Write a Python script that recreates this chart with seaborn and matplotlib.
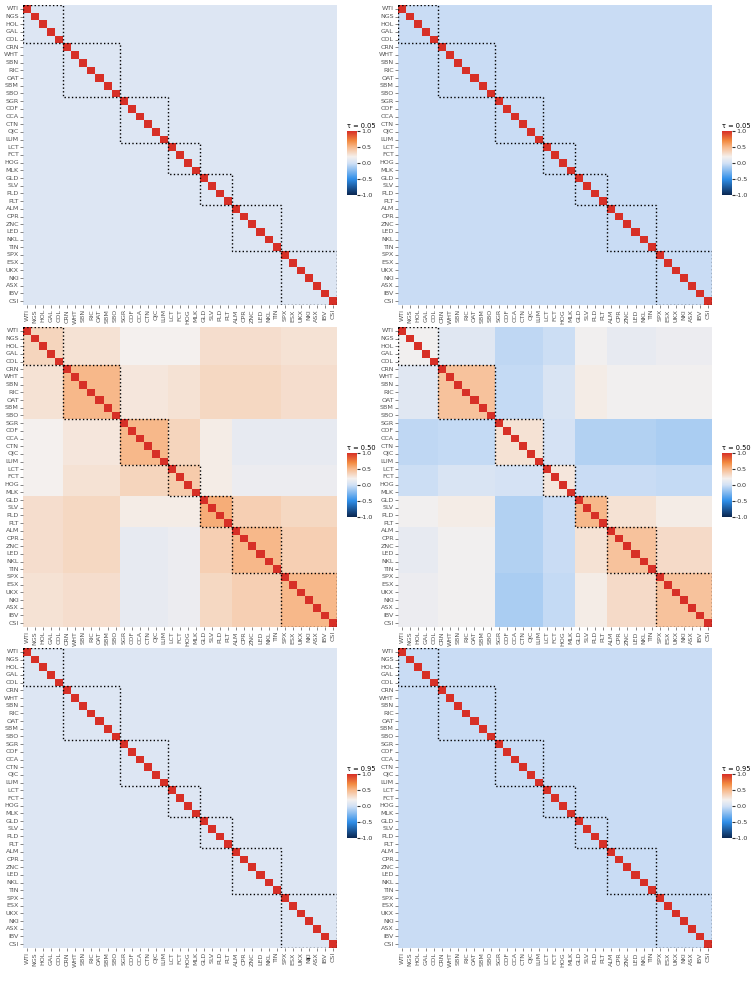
import numpy as np
import pandas as pd
import seaborn as sns
import matplotlib
matplotlib.use("Agg")
import matplotlib.pyplot as plt
from matplotlib.colors import LinearSegmentedColormap
from matplotlib.patches import Rectangle

assets = ["WTI","NGS","HOL","GAL","COL","CRN","WHT","SBN","RIC","OAT","SBM","SBO",
          "SGR","COF","CCA","CTN","OJC","LUM","LCT","FCT","HOG","MLK","GLD","SLV",
          "PLD","PLT","ALM","CPR","ZNC","LED","NKL","TIN","SPX","ESX","UKX","NKI",
          "ASX","IBV","CSI"]
sector_sizes = [5, 7, 6, 4, 4, 6, 7]
taus = ["0.05", "0.50", "0.95"]

# off-diagonal level for the extreme-quantile panels (left / right column)
level_005_left = 0.07
level_005_right = -0.03
level_095_left = 0.07
level_095_right = -0.03

# sector-block average correlations, tau = 0.50 (left / right)
block_050_left = [
    [0.35, 0.28, 0.20, 0.20, 0.30, 0.30, 0.28],
    [0.28, 0.50, 0.25, 0.28, 0.33, 0.33, 0.30],
    [0.20, 0.25, 0.50, 0.35, 0.22, 0.12, 0.12],
    [0.20, 0.28, 0.35, 0.40, 0.22, 0.15, 0.15],
    [0.30, 0.33, 0.22, 0.22, 0.55, 0.38, 0.33],
    [0.30, 0.33, 0.12, 0.15, 0.38, 0.50, 0.38],
    [0.28, 0.30, 0.12, 0.15, 0.33, 0.38, 0.50],
]
block_050_right = [
    [0.18, 0.08, -0.06, -0.02, 0.18, 0.12, 0.15],
    [0.08, 0.45, -0.04, 0.04, 0.22, 0.18, 0.18],
    [-0.06, -0.04, 0.28, 0.02, -0.10, -0.10, -0.12],
    [-0.02, 0.04, 0.02, 0.25, -0.03, -0.03, -0.04],
    [0.18, 0.22, -0.10, -0.03, 0.50, 0.28, 0.22],
    [0.12, 0.18, -0.10, -0.03, 0.28, 0.45, 0.32],
    [0.15, 0.18, -0.12, -0.04, 0.22, 0.32, 0.45],
]

sector_of = np.repeat(np.arange(len(sector_sizes)), sector_sizes)

def uniform(level):
    m = np.full((len(assets), len(assets)), level)
    np.fill_diagonal(m, 1.0)
    return pd.DataFrame(m, index=assets, columns=assets)

def from_blocks(blocks):
    b = np.array(blocks)
    m = b[np.ix_(sector_of, sector_of)].copy()
    np.fill_diagonal(m, 1.0)
    return pd.DataFrame(m, index=assets, columns=assets)

panels = [
    [uniform(level_005_left), uniform(level_005_right)],
    [from_blocks(block_050_left), from_blocks(block_050_right)],
    [uniform(level_095_left), uniform(level_095_right)],
]

cmap = LinearSegmentedColormap.from_list("c", [
    (0.0, "#0a2650"), (0.25, "#2f8ee8"), (0.5, "#d2e1f5"), (0.6, "#f4f0ee"),
    (0.75, "#f7b98c"), (0.85, "#f28a40"), (1.0, "#d73027")])

fig = plt.figure(figsize=(7.55, 9.88), dpi=100)
W, H = 755, 988
tops = [5, 327, 648]
lefts = [23, 398]
for r in range(3):
    for c in range(2):
        ax = fig.add_axes([lefts[c]/W, 1-(tops[r]+300)/H, 314/W, 300/H])
        cax = fig.add_axes([(lefts[c]+324)/W, 1-(tops[r]+190)/H, 10/W, 64/H])
        sns.heatmap(panels[r][c], ax=ax, cmap=cmap, vmin=-1, vmax=1, cbar_ax=cax,
                    xticklabels=True, yticklabels=True)
        ax.tick_params(labelsize=4.6, colors="#555555", length=2, width=0.5, pad=1)
        for lab in ax.get_xticklabels():
            lab.set_rotation(90)
        for lab in ax.get_yticklabels():
            lab.set_rotation(0)
        start = 0
        for n in sector_sizes:
            ax.add_patch(Rectangle((start, start), n, n, fill=False, ls=":", lw=1, color="black"))
            start += n
        cax.tick_params(labelsize=4.6, length=2, colors="#333333", pad=1)
        cax.set_yticks([-1, -0.5, 0, 0.5, 1])
        cax.set_yticklabels(["-1.0", "-0.5", "0.0", "0.5", "1.0"])
        cax.set_title(f"τ = {taus[r]}", fontsize=4.8, loc="left", pad=2)
fig.text(308/W, 1-958/H, "–", fontsize=7, ha="center", va="center")
fig.savefig("out.png", dpi=100)
